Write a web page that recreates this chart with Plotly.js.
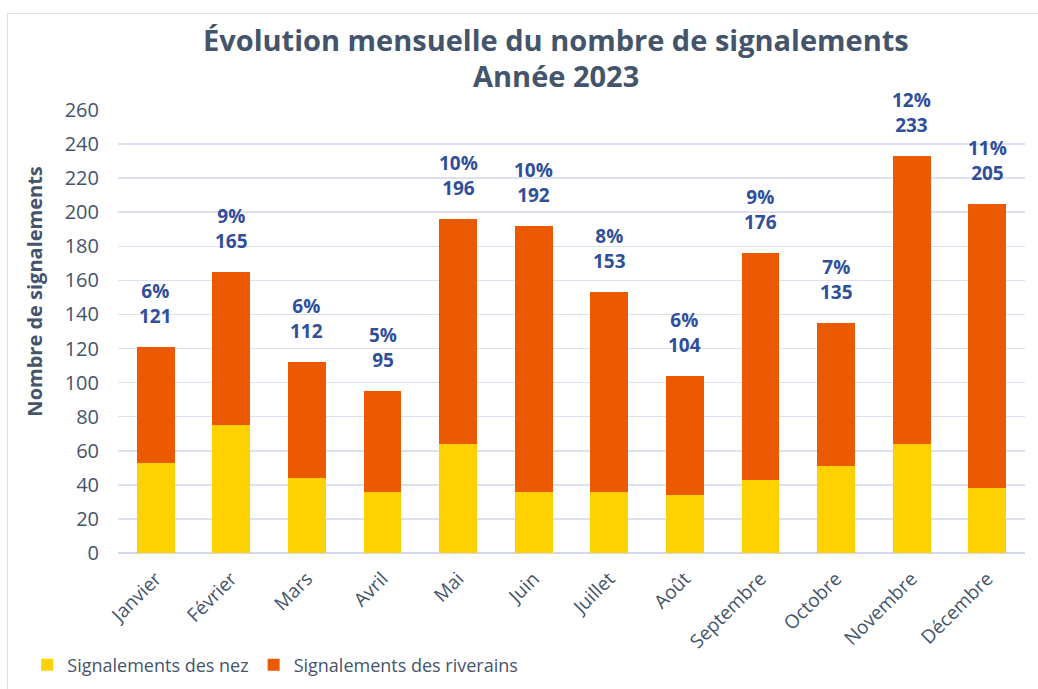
<!DOCTYPE html>
<html>
<head>
<meta charset="utf-8">
<script src="https://cdn.plot.ly/plotly-3.0.1.min.js"></script>
<style>
  html, body { margin:0; padding:0; background:#fff; }
  #frame { position:absolute; left:7px; top:13px; width:1040px; height:700px; border:1.5px solid #D9DEF0; box-sizing:border-box; }
  #chart { position:absolute; left:0; top:0; width:1038px; height:689px; }
</style>
</head>
<body>
<div id="frame"></div>
<div id="chart"></div>
<script>
const months = ["Janvier","Février","Mars","Avril","Mai","Juin","Juillet","Août","Septembre","Octobre","Novembre","Décembre"];
const totals = [121,165,112,95,196,192,153,104,176,135,233,205];
const nez = [53,75,44,36,64,36,36,34,43,51,64,38];
const percents = ["6%","9%","6%","5%","10%","10%","8%","6%","9%","7%","12%","11%"];
const riverains = totals.map((t,i) => t - nez[i]);

const FONT = "Open Sans, Noto Sans, sans-serif";
const GREY = "#44546A";
const BLUE = "#2F4F9A";

const traces = [
  { type:"bar", name:"Signalements des nez", x:months, y:nez, marker:{color:"#FFD100"}, hoverinfo:"y" },
  { type:"bar", name:"Signalements des riverains", x:months, y:riverains, marker:{color:"#EB5A00"}, hoverinfo:"y" }
];

const annotations = [];
months.forEach((m,i) => {
  annotations.push({ x:m, y:totals[i], text:"<b>"+percents[i]+"</b><br><b>"+totals[i]+"</b>", showarrow:false,
    yanchor:"bottom", yshift:17, borderpad:0,
    font:{family:FONT, size:19, color:BLUE} });
});
annotations.push({ xref:"paper", yref:"paper", x:0.483, y:1.16, text:"<b>Évolution mensuelle du nombre de signalements</b>",
  showarrow:false, xanchor:"center", yanchor:"middle", font:{family:FONT, size:29, color:GREY} });
annotations.push({ xref:"paper", yref:"paper", x:0.483, y:1.077, text:"<b>Année 2023</b>",
  showarrow:false, xanchor:"center", yanchor:"middle", font:{family:FONT, size:29, color:GREY} });
annotations.push({ xref:"paper", yref:"paper", x:-0.092, y:0.589, text:"<b>Nombre de signalements</b>", textangle:-90,
  showarrow:false, xanchor:"center", yanchor:"middle", font:{family:FONT, size:20, color:GREY} });

const layout = {
  width:1038, height:689,
  margin:{l:118, r:13, t:110, b:136, autoexpand:false},
  paper_bgcolor:"rgba(0,0,0,0)", plot_bgcolor:"rgba(0,0,0,0)",
  barmode:"stack", bargap:0.5,
  font:{family:FONT, color:GREY},
  xaxis:{ tickangle:-45, tickfont:{family:FONT, size:19, color:GREY}, showgrid:false, showline:false, ticks:"",
    automargin:false, ticklabelstandoff:10 },
  yaxis:{ range:[0,260], dtick:20, tickfont:{family:FONT, size:20, color:GREY}, gridcolor:"#DCE0F0", gridwidth:1.5,
    zeroline:true, zerolinecolor:"#D2D8EE", zerolinewidth:2, ticks:"", ticklen:0, ticklabelstandoff:18, automargin:false },
  showlegend:true,
  legend:{ orientation:"h", x:-0.1, y:-0.253, xanchor:"left", yanchor:"middle", font:{family:FONT, size:18, color:GREY},
    traceorder:"normal", itemwidth:30 },
  annotations:annotations
};

Plotly.newPlot("chart", traces, layout, {displayModeBar:false, staticPlot:true});
</script>
</body>
</html>
